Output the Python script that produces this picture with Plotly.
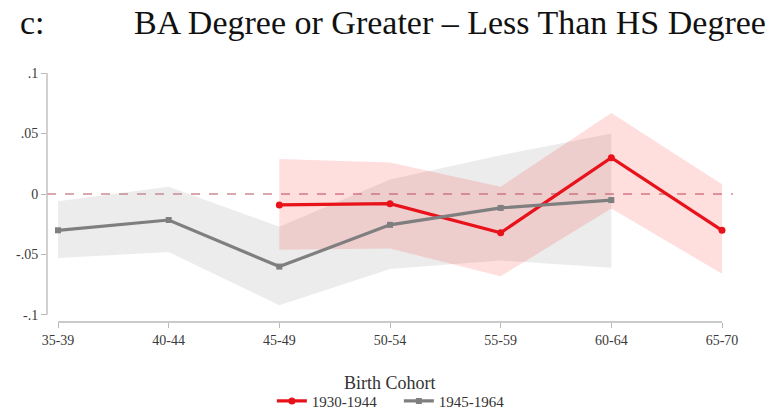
import plotly.graph_objects as go

# Birth-cohort age groups on the x axis
age_groups = ["35-39", "40-44", "45-49", "50-54", "55-59", "60-64", "65-70"]

# 1930-1944 cohort: estimate and 95% CI (observed from 45-49 onward)
old_x = [2, 3, 4, 5, 6]
old_est = [-0.009, -0.008, -0.032, 0.030, -0.030]
old_hi = [0.029, 0.026, 0.006, 0.067, 0.008]
old_lo = [-0.046, -0.045, -0.068, -0.012, -0.066]

# 1945-1964 cohort: estimate and 95% CI (observed through 60-64)
young_x = [0, 1, 2, 3, 4, 5]
young_est = [-0.030, -0.0215, -0.060, -0.0255, -0.0115, -0.005]
young_hi = [-0.006, 0.006, -0.027, 0.012, 0.032, 0.050]
young_lo = [-0.053, -0.048, -0.092, -0.062, -0.055, -0.061]

y_ticks = [-0.1, -0.05, 0, 0.05, 0.1]
y_tick_text = ["-.1", "-.05", "0", ".05", ".1"]

RED = "#e8121a"
GRAY = "#7f7f7f"
AXIS = "#b8b8b8"
SERIF = "Liberation Serif"

fig = go.Figure()

# confidence bands drawn as closed polygons
fig.add_trace(go.Scatter(
    x=young_x + young_x[::-1], y=young_hi + young_lo[::-1],
    fill="toself", fillcolor="rgba(150,150,150,0.18)", line=dict(width=0),
    mode="lines", hoverinfo="skip", showlegend=False))
fig.add_trace(go.Scatter(
    x=old_x + old_x[::-1], y=old_hi + old_lo[::-1],
    fill="toself", fillcolor="rgba(255,0,0,0.13)", line=dict(width=0),
    mode="lines", hoverinfo="skip", showlegend=False))

# point estimates
fig.add_trace(go.Scatter(
    x=old_x, y=old_est, mode="lines+markers", name="1930-1944",
    line=dict(color=RED, width=3.2),
    marker=dict(symbol="circle", size=7, color=RED)))
fig.add_trace(go.Scatter(
    x=young_x, y=young_est, mode="lines+markers", name="1945-1964",
    line=dict(color=GRAY, width=3.2),
    marker=dict(symbol="square", size=6, color=GRAY)))

# reference line at zero
fig.add_shape(type="line", xref="paper", x0=0, x1=1, yref="y", y0=0, y1=0,
              line=dict(color="#cf8a94", width=1.3, dash="dash"), layer="below")

# detached axis lines
fig.add_shape(type="line", xref="paper", x0=0, x1=0, yref="y", y0=-0.1, y1=0.1,
              line=dict(color=AXIS, width=1.3))
fig.add_shape(type="line", xref="x", x0=0, x1=6, yref="paper", y0=0, y1=0,
              line=dict(color=AXIS, width=1.3))

fig.update_xaxes(
    range=[-0.0994, 6.0994], tickvals=list(range(len(age_groups))), ticktext=age_groups,
    showline=False, showgrid=False, zeroline=False,
    ticks="outside", ticklen=5, tickcolor=AXIS, tickwidth=1,
    tickfont=dict(family=SERIF, size=14, color="#3a3a3a"))
fig.update_yaxes(
    range=[-0.1058, 0.1025], tickvals=y_ticks, ticktext=y_tick_text,
    showline=False, showgrid=False, zeroline=False,
    ticks="outside", ticklen=5, tickcolor=AXIS, tickwidth=1,
    tickfont=dict(family=SERIF, size=14, color="#3a3a3a"))

# heading (plot area spans pixel rows 70..322)
fig.add_annotation(text="c:", xref="paper", yref="paper", x=-0.043, y=1.19,
                   xanchor="left", yanchor="middle", showarrow=False,
                   font=dict(family=SERIF, size=34, color="#111111"))
fig.add_annotation(text="BA Degree or Greater \u2013 Less Than HS Degree",
                   xref="paper", yref="paper", x=0.124, y=1.19,
                   xanchor="left", yanchor="middle", showarrow=False,
                   font=dict(family=SERIF, size=34, color="#111111"))
fig.add_annotation(text="Birth Cohort", xref="paper", yref="paper",
                   x=0.5, y=-0.242, xanchor="center", yanchor="middle",
                   showarrow=False, font=dict(family=SERIF, size=18, color="#333333"))

fig.update_layout(
    width=773, height=411,
    margin=dict(l=47, r=40, t=70, b=89, autoexpand=False),
    plot_bgcolor="white", paper_bgcolor="white",
    showlegend=True,
    legend=dict(orientation="h", xref="container", yref="container",
                x=0.516, xanchor="center", y=0.024, yanchor="middle",
                font=dict(family=SERIF, size=15, color="#333333"),
                itemwidth=30, entrywidth=82, tracegroupgap=0,
                bgcolor="rgba(0,0,0,0)"),
)

fig.write_html("out.html")
